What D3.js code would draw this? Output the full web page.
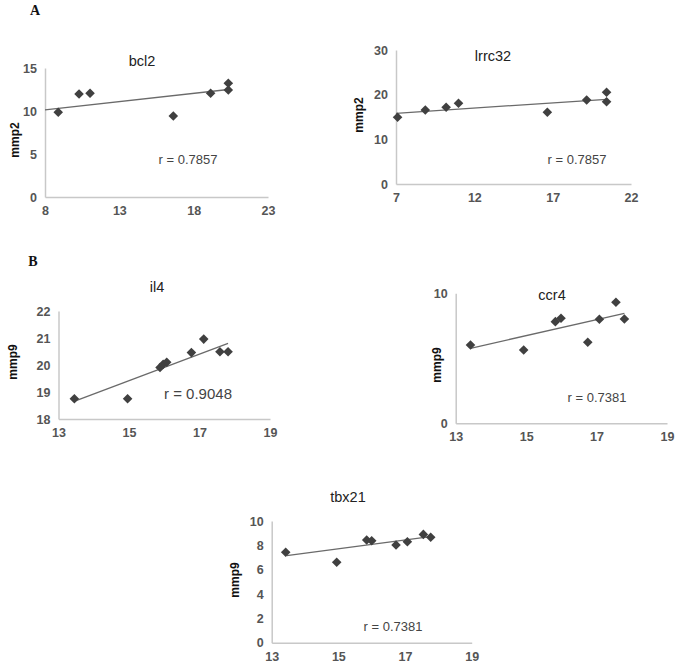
<!DOCTYPE html>
<html><head><meta charset="utf-8">
<script src="https://cdn.jsdelivr.net/npm/d3@7"></script>
<style>body{margin:0;background:#fff}svg{display:block}</style>
</head><body>
<script>
// ---- data ----
const bcl2X = [8.89, 10.29, 11.03, 16.63, 19.14, 20.33, 20.33];
const bcl2Y = [9.85, 11.98, 12.06, 9.42, 12.06, 13.22, 12.44];
const bcl2Trend = [[8, 10.12], [20.33, 12.5]];
const lrrc32X = [7.1, 8.87, 10.2, 10.99, 16.66, 19.17, 20.44, 20.44];
const lrrc32Y = [14.93, 16.57, 17.17, 18.07, 16.05, 18.81, 20.53, 18.43];
const lrrc32Trend = [[7, 15.83], [20.44, 18.96]];
const il4X = [13.45, 14.96, 15.88, 15.97, 16.07, 16.77, 17.12, 17.58, 17.81];
const il4Y = [18.75, 18.75, 19.91, 20.03, 20.1, 20.46, 20.96, 20.49, 20.49];
const il4Trend = [[13.48, 18.67], [17.81, 20.8]];
const ccr4X = [13.42, 14.93, 15.83, 15.99, 16.75, 17.08, 17.55, 17.79];
const ccr4Y = [6.02, 5.64, 7.82, 8.08, 6.23, 8.0, 9.31, 8.02];
const ccr4Trend = [[13.42, 5.77], [17.79, 8.46]];
const tbx21X = [13.42, 14.95, 15.85, 16.0, 16.73, 17.07, 17.55, 17.77];
const tbx21Y = [7.43, 6.61, 8.44, 8.38, 8.03, 8.3, 8.9, 8.66];
const tbx21Trend = [[13.45, 7.15], [17.76, 8.71]];

const bcl2XTicks = [8, 13, 18, 23], bcl2YTicks = [0, 5, 10, 15];
const lrrc32XTicks = [7, 12, 17, 22], lrrc32YTicks = [0, 10, 20, 30];
const il4XTicks = [13, 15, 17, 19], il4YTicks = [18, 19, 20, 21, 22];
const ccr4XTicks = [13, 15, 17, 19], ccr4YTicks = [0, 10];
const tbx21XTicks = [13, 15, 17, 19], tbx21YTicks = [0, 2, 4, 6, 8, 10];

const titles = ["bcl2", "lrrc32", "il4", "ccr4", "tbx21"];
const yTitles = ["mmp2", "mmp2", "mmp9", "mmp9", "mmp9"];
const rLabels = ["r = 0.7857", "r = 0.7857", "r = 0.9048", "r = 0.7381", "r =  0.7381"];

// ---- layout ----
const panels = [
  {x: bcl2X, y: bcl2Y, trend: bcl2Trend, xt: bcl2XTicks, yt: bcl2YTicks,
   px: [45, 268], py: [197, 68], title: [142, 61], r: [188, 159], rs: 13, yl: [15, 140]},
  {x: lrrc32X, y: lrrc32Y, trend: lrrc32Trend, xt: lrrc32XTicks, yt: lrrc32YTicks,
   px: [396, 631], py: [184, 50], title: [493, 56], r: [577, 159], rs: 13, yl: [359, 115]},
  {x: il4X, y: il4Y, trend: il4Trend, xt: il4XTicks, yt: il4YTicks,
   px: [58.5, 270], py: [419, 311], title: [157, 287], r: [198, 394], rs: 15, yl: [13, 362]},
  {x: ccr4X, y: ccr4Y, trend: ccr4Trend, xt: ccr4XTicks, yt: ccr4YTicks,
   px: [455.7, 667], py: [423.3, 293.3], title: [552, 295], r: [597, 397], rs: 13, yl: [437, 365]},
  {x: tbx21X, y: tbx21Y, trend: tbx21Trend, xt: tbx21XTicks, yt: tbx21YTicks,
   px: [271.7, 471.7], py: [642.7, 521], title: [348, 497], r: [393, 626], rs: 13, yl: [235, 580]}
];

const W = 675, H = 667;
const svg = d3.select("body").append("svg").attr("width", W).attr("height", H);
const font = "'Liberation Sans', Arial, sans-serif";

svg.append("text").attr("x", 35).attr("y", 15).attr("text-anchor", "middle")
  .attr("font-family", "'Liberation Serif', serif").attr("font-weight", "bold")
  .attr("font-size", 14).attr("fill", "#111").text("A");
svg.append("text").attr("x", 33).attr("y", 266).attr("text-anchor", "middle")
  .attr("font-family", "'Liberation Serif', serif").attr("font-weight", "bold")
  .attr("font-size", 14).attr("fill", "#111").text("B");

const diamond = d3.symbol().type(d3.symbolSquare).size(46);

panels.forEach((p, i) => {
  const xs = d3.scaleLinear().domain([p.xt[0], p.xt[p.xt.length - 1]]).range(p.px);
  const ys = d3.scaleLinear().domain([p.yt[0], p.yt[p.yt.length - 1]]).range(p.py);
  const g = svg.append("g");

  const xAxis = d3.axisBottom(xs).tickValues(p.xt).tickSize(0).tickPadding(9).tickFormat(d3.format("d"));
  const yAxis = d3.axisLeft(ys).tickValues(p.yt).tickSize(0).tickPadding(8).tickFormat(d3.format("d"));
  const gx = g.append("g").attr("transform", `translate(0,${p.py[0]})`).call(xAxis);
  const gy = g.append("g").attr("transform", `translate(${p.px[0]},0)`).call(yAxis);
  [gx, gy].forEach(a => {
    a.select(".domain").attr("stroke", "#c8c8c8").attr("stroke-width", 1.5);
    a.selectAll("text").attr("font-family", font).attr("font-size", 12.5)
      .attr("font-weight", "bold").attr("fill", "#555");
  });

  // trend line
  g.append("line")
    .attr("x1", xs(p.trend[0][0])).attr("y1", ys(p.trend[0][1]))
    .attr("x2", xs(p.trend[1][0])).attr("y2", ys(p.trend[1][1]))
    .attr("stroke", "#6a6a6a").attr("stroke-width", 1.3);

  // points
  g.selectAll("path.pt").data(p.x.map((v, k) => [v, p.y[k]])).enter().append("path")
    .attr("class", "pt")
    .attr("d", diamond)
    .attr("transform", d => `translate(${xs(d[0])},${ys(d[1])}) rotate(45)`)
    .attr("fill", "#404040");

  g.append("text").attr("x", p.title[0]).attr("y", p.title[1] + 5).attr("text-anchor", "middle")
    .attr("font-family", font).attr("font-size", 14.5).attr("fill", "#222").text(titles[i]);
  g.append("text").attr("x", p.r[0]).attr("y", p.r[1] + 5).attr("text-anchor", "middle")
    .attr("font-family", font).attr("font-size", p.rs).attr("fill", "#444").text(rLabels[i]);
  g.append("text").attr("transform", `translate(${p.yl[0] + 4},${p.yl[1]}) rotate(-90)`)
    .attr("text-anchor", "middle").attr("font-family", font).attr("font-weight", "bold")
    .attr("font-size", 12).attr("fill", "#111").text(yTitles[i]);
});
</script>
</body></html>
